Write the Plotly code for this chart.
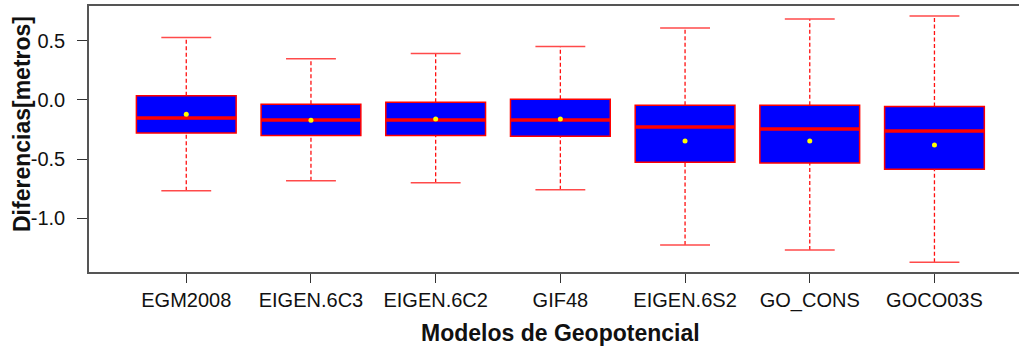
import plotly.graph_objects as go

categories = ["EGM2008", "EIGEN.6C3", "EIGEN.6C2", "GIF48", "EIGEN.6S2", "GO_CONS", "GOCO03S"]
upper_whisker = [0.527, 0.349, 0.392, 0.451, 0.608, 0.684, 0.710]
q3 = [0.036, -0.036, -0.019, 0.006, -0.045, -0.045, -0.054]
median = [-0.152, -0.169, -0.169, -0.169, -0.229, -0.245, -0.262]
q1 = [-0.279, -0.299, -0.299, -0.307, -0.525, -0.533, -0.584]
lower_whisker = [-0.767, -0.683, -0.700, -0.759, -1.225, -1.267, -1.370]
mean = [-0.121, -0.172, -0.161, -0.161, -0.347, -0.347, -0.380]
yticks = [-1.0, -0.5, 0.0, 0.5]

pos = list(range(1, len(categories) + 1))
BOXW = 0.8
CAPW = 0.4
FONT = "Liberation Sans, Arial, sans-serif"

fig = go.Figure()

# whiskers (dashed)
wx, wy = [], []
for p, lo, a, b, hi in zip(pos, lower_whisker, q1, q3, upper_whisker):
    wx += [p, p, None, p, p, None]
    wy += [lo, a, None, b, hi, None]
fig.add_trace(go.Scatter(x=wx, y=wy, mode="lines",
                         line=dict(color="#ff1010", width=1.3, dash="4px,2.5px"),
                         hoverinfo="skip", showlegend=False))

# boxes
fig.add_trace(go.Bar(x=pos, y=[b - a for a, b in zip(q1, q3)], base=q1, width=BOXW,
                     marker=dict(color="#0000ff", line=dict(color="#ff0000", width=1.5)),
                     hoverinfo="skip", showlegend=False))

# medians
mx, my = [], []
for p, m in zip(pos, median):
    mx += [p - BOXW / 2, p + BOXW / 2, None]
    my += [m, m, None]
fig.add_trace(go.Scatter(x=mx, y=my, mode="lines",
                         line=dict(color="#ff0000", width=3.5),
                         hoverinfo="skip", showlegend=False))

# caps
cx, cy = [], []
for p, lo, hi in zip(pos, lower_whisker, upper_whisker):
    cx += [p - CAPW / 2, p + CAPW / 2, None, p - CAPW / 2, p + CAPW / 2, None]
    cy += [lo, lo, None, hi, hi, None]
fig.add_trace(go.Scatter(x=cx, y=cy, mode="lines",
                         line=dict(color="#ff4a4a", width=1.5),
                         hoverinfo="skip", showlegend=False))

# means
fig.add_trace(go.Scatter(x=pos, y=mean, mode="markers",
                         marker=dict(color="#ffff00", size=5, line=dict(width=0)),
                         hoverinfo="skip", showlegend=False))

fig.update_layout(
    width=1019, height=349,
    margin=dict(l=89, r=0, t=6, b=77),
    paper_bgcolor="white", plot_bgcolor="white",
    barmode="overlay",
    font=dict(family=FONT, color="#111111"),
    xaxis=dict(range=[0.22, 7.678], tickvals=pos, ticktext=categories,
               showgrid=False, zeroline=False,
               showline=True, linecolor="#555555", linewidth=1.5, mirror=True,
               ticks="outside", ticklen=9, tickcolor="#333333", tickwidth=1,
               tickfont=dict(size=20, family=FONT, color="#111111")),
    yaxis=dict(range=[-1.453, 0.794], tickvals=yticks,
               ticktext=[f"{v:.1f}" for v in yticks],
               showgrid=False, zeroline=False,
               showline=True, linecolor="#555555", linewidth=1.5, mirror=False,
               ticks="outside", ticklen=10, tickcolor="#333333", tickwidth=1,
               ticklabelstandoff=8,
               tickfont=dict(size=20, family=FONT, color="#111111")),
    annotations=[
        dict(text="<b>Modelos de Geopotencial</b>", xref="x", yref="paper",
             x=4.0, y=(272 - 333) / 266, xanchor="center", yanchor="middle",
             showarrow=False, font=dict(size=23, family=FONT, color="#111111")),
        dict(text="<b>Diferencias[metros]</b>", xref="paper", yref="paper",
             x=(22 - 89) / 930, y=(272 - 124) / 266, xanchor="center", yanchor="middle",
             textangle=-90, showarrow=False,
             font=dict(size=23, family=FONT, color="#111111")),
    ],
)

fig.write_html("out.html")
